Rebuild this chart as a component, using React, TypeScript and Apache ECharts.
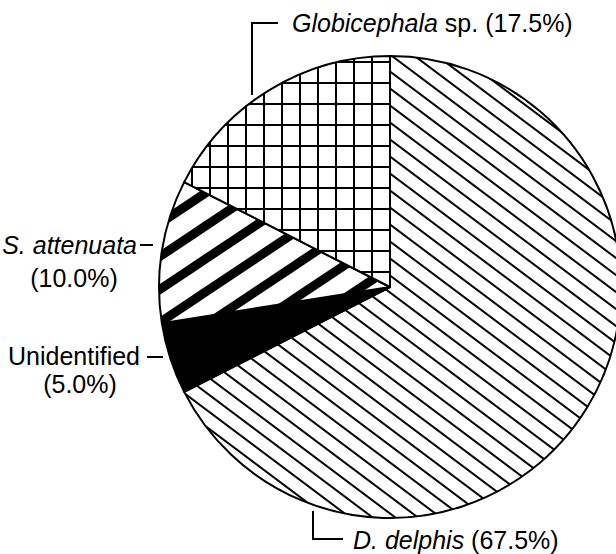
import React, { useEffect, useRef } from "react";
import * as echarts from "echarts";

// Data
const speciesNames = ["D. delphis", "Unidentified", "S. attenuata", "Globicephala sp."];
const percentValues = [67.5, 5.0, 10.0, 17.5];
const labelItalic = ["D. delphis", "", "S. attenuata", "Globicephala"];
const labelPlain = ["", "Unidentified", "", " sp."];

const FONT = '"Liberation Sans", Arial, Helvetica, sans-serif';
const FS = 25;

function makeTile(w: number, h: number, draw: (ctx: CanvasRenderingContext2D) => void) {
  const c = document.createElement("canvas");
  c.width = w;
  c.height = h;
  const ctx = c.getContext("2d")!;
  ctx.fillStyle = "#ffffff";
  ctx.fillRect(0, 0, w, h);
  draw(ctx);
  return c;
}

function diagonalTile() {
  // thin lines going down-right, slope 3/4, vertical period 17
  return makeTile(68, 17, (ctx) => {
    ctx.strokeStyle = "#000";
    ctx.lineWidth = 2;
    for (let c = -85; c <= 102; c += 17) {
      ctx.beginPath();
      ctx.moveTo(-10, -7.5 + c);
      ctx.lineTo(78, 58.5 + c);
      ctx.stroke();
    }
  });
}

function stripeTile() {
  // thick stripes going up-right, slope -2/3, vertical period 33
  return makeTile(99, 33, (ctx) => {
    ctx.strokeStyle = "#000";
    ctx.lineWidth = 9;
    for (let c = -66; c <= 198; c += 33) {
      ctx.beginPath();
      ctx.moveTo(-10, c + 20 / 3);
      ctx.lineTo(109, c - (2 / 3) * 109);
      ctx.stroke();
    }
  });
}

function gridTile() {
  return makeTile(18, 21, (ctx) => {
    ctx.fillStyle = "#000";
    ctx.fillRect(11, 0, 2, 21);
    ctx.fillRect(0, 19, 18, 2);
  });
}

function richLabel(i: number, pct: boolean) {
  const it = labelItalic[i];
  const pl = labelPlain[i];
  let s = "";
  if (it) s += "{i|" + it + "}";
  if (pl) s += pl;
  if (pct) s += " (" + percentValues[i].toFixed(1) + "%)";
  return s;
}

export default function App() {
  const ref = useRef<HTMLDivElement>(null);

  useEffect(() => {
    if (!ref.current) return;
    const chart = echarts.init(ref.current, null, { renderer: "svg" });
    const fills: any[] = [
      { image: diagonalTile(), repeat: "repeat" },
      "#000000",
      { image: stripeTile(), repeat: "repeat" },
      { image: gridTile(), repeat: "repeat" },
    ];
    const rich = { i: { fontStyle: "italic", fontSize: FS, fontFamily: FONT, fill: "#000" } };
    const textStyle = (text: string, align: string) => ({
      text,
      font: FS + "px " + FONT,
      fill: "#000",
      align,
      verticalAlign: "middle",
      rich,
    });
    const lineStyle = { stroke: "#000", lineWidth: 2 };

    chart.setOption({
      animation: false,
      backgroundColor: "#ffffff",
      series: [
        {
          type: "pie",
          center: [390, 287],
          radius: 231,
          startAngle: 90,
          clockwise: true,
          silent: true,
          label: { show: false },
          labelLine: { show: false },
          emphasis: { disabled: true },
          itemStyle: { borderColor: "#000", borderWidth: 2 },
          data: speciesNames.map((n, i) => ({
            name: n,
            value: percentValues[i],
            itemStyle: { color: fills[i] },
          })),
        },
      ],
      graphic: [
        // Globicephala
        { type: "text", x: 292, y: 23, style: textStyle(richLabel(3, true), "left") },
        { type: "polyline", shape: { points: [[278, 23], [252, 23], [252, 95]] }, style: lineStyle },
        // S. attenuata
        { type: "text", x: 137, y: 245, style: textStyle(richLabel(2, false), "right") },
        { type: "text", x: 74, y: 278, style: textStyle("(" + percentValues[2].toFixed(1) + "%)", "center") },
        { type: "line", shape: { x1: 140, y1: 245, x2: 153, y2: 245 }, style: lineStyle },
        // Unidentified
        { type: "text", x: 140, y: 356, style: textStyle(richLabel(1, false), "right") },
        { type: "text", x: 80, y: 384, style: textStyle("(" + percentValues[1].toFixed(1) + "%)", "center") },
        { type: "line", shape: { x1: 147, y1: 357, x2: 163, y2: 357 }, style: lineStyle },
        // D. delphis
        { type: "text", x: 353, y: 540, style: textStyle(richLabel(0, true), "left") },
        { type: "polyline", shape: { points: [[313, 511], [313, 539], [343, 539]] }, style: lineStyle },
      ],
    });
    return () => chart.dispose();
  }, []);

  return (
    <div
      ref={ref}
      style={{ position: "absolute", left: 0, top: 0, width: 616, height: 554, background: "#fff" }}
    />
  );
}
